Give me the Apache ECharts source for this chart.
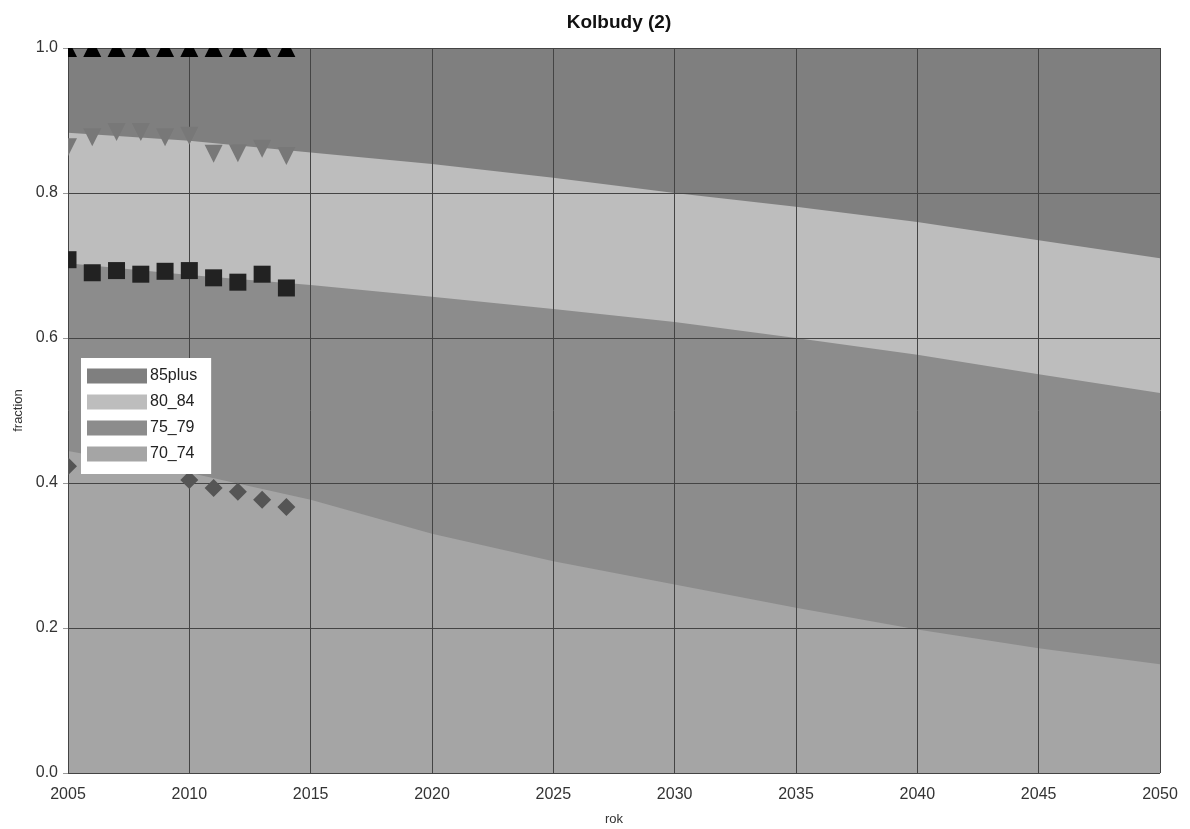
<!DOCTYPE html>
<html>
<head>
<meta charset="utf-8">
<script src="https://cdn.jsdelivr.net/npm/echarts@6/dist/echarts.min.js"></script>
<style>html,body{margin:0;padding:0;background:#fff}#c{width:1190px;height:829px}</style>
</head>
<body>
<div id="c"></div>
<script>
// Projection years
var years = [2005, 2010, 2015, 2020, 2025, 2030, 2035, 2040, 2045, 2050];
// Group fractions (stacked, bottom to top)
var g70_74  = [0.444, 0.414, 0.377, 0.330, 0.292, 0.260, 0.228, 0.198, 0.172, 0.150];
var g75_79  = [0.259, 0.273, 0.296, 0.327, 0.348, 0.362, 0.372, 0.379, 0.378, 0.374];
var g80_84  = [0.180, 0.185, 0.183, 0.183, 0.181, 0.178, 0.181, 0.183, 0.185, 0.186];
var g85plus = [0.117, 0.128, 0.144, 0.160, 0.179, 0.200, 0.219, 0.240, 0.265, 0.290];

// Observed cumulative fractions (markers)
var obsYears = [2005, 2006, 2007, 2008, 2009, 2010, 2011, 2012, 2013, 2014];
var obs85 = [1.0, 1.0, 1.0, 1.0, 1.0, 1.0, 1.0, 1.0, 1.0, 1.0];
var obs80 = [0.863, 0.877, 0.884, 0.884, 0.877, 0.879, 0.854, 0.855, 0.861, 0.851];
var obs75 = [0.708, 0.690, 0.693, 0.688, 0.692, 0.693, 0.683, 0.677, 0.688, 0.669];
var obs70 = [0.423, null, null, null, null, 0.404, 0.393, 0.388, 0.377, 0.367];

var yTicks = ['0.0', '0.2', '0.4', '0.6', '0.8', '1.0'];

var FONT = 'Liberation Sans, Arial, sans-serif';

// Bottom-to-top groups; cumulative tops are drawn from largest to smallest
var areaNames = ['70_74', '75_79', '80_84', '85plus'];
var areaData = [g70_74, g75_79, g80_84, g85plus];
var areaColors = ['#a5a5a5', '#8c8c8c', '#bdbdbd', '#7f7f7f'];

var cum = [];
var running = years.map(function () { return 0; });
areaData.forEach(function (arr) {
  running = running.map(function (v, i) { return v + arr[i]; });
  cum.push(running.slice());
});

var series = [];
for (var k = areaNames.length - 1; k >= 0; k--) {
  series.push({
    name: areaNames[k], type: 'line', z: 1,
    data: years.map(function (y, i) { return [y, cum[k][i]]; }),
    showSymbol: false, symbol: 'none',
    lineStyle: { width: 0, color: areaColors[k] },
    itemStyle: { color: areaColors[k] },
    areaStyle: { color: areaColors[k], opacity: 1, origin: 'start' },
    silent: true
  });
}

function markerSeries(name, values, kind, size, color) {
  var data = [];
  obsYears.forEach(function (y, i) { if (values[i] !== null) data.push([y, values[i]]); });
  return {
    name: name, type: 'custom', z: 5, clip: true, silent: true,
    data: data,
    renderItem: function (params, api) {
      var p = api.coord([api.value(0), api.value(1)]);
      var h = size / 2, pts;
      if (kind === 'up') pts = [[p[0], p[1] - h], [p[0] + h, p[1] + h], [p[0] - h, p[1] + h]];
      else if (kind === 'down') pts = [[p[0] - h, p[1] - h], [p[0] + h, p[1] - h], [p[0], p[1] + h]];
      else if (kind === 'square') pts = [[p[0] - h, p[1] - h], [p[0] + h, p[1] - h], [p[0] + h, p[1] + h], [p[0] - h, p[1] + h]];
      else pts = [[p[0], p[1] - h], [p[0] + h, p[1]], [p[0], p[1] + h], [p[0] - h, p[1]]];
      return { type: 'polygon', shape: { points: pts }, style: { fill: color, stroke: null } };
    }
  };
}

series.push(markerSeries('o85', obs85, 'up', 18, '#000000'));
series.push(markerSeries('o80', obs80, 'down', 18, '#787878'));
series.push(markerSeries('o75', obs75, 'square', 17, '#222222'));
series.push(markerSeries('o70', obs70, 'diamond', 18, '#555555'));

var chart = echarts.init(document.getElementById('c'), null, { renderer: 'canvas' });
chart.setOption({
  backgroundColor: '#ffffff',
  animation: false,
  title: {
    text: 'Kolbudy (2)', left: 614, top: 8, textAlign: 'center',
    textStyle: { fontFamily: FONT, fontSize: 19, fontWeight: 'bold', color: '#111' }
  },
  legend: {
    data: ['85plus', '80_84', '75_79', '70_74'],
    orient: 'vertical', left: 81, top: 358,
    padding: [10, 14, 12, 6], itemGap: 10, itemWidth: 60, itemHeight: 15,
    backgroundColor: '#ffffff', borderWidth: 0, icon: 'rect',
    textStyle: { fontFamily: FONT, fontSize: 16, color: '#222', padding: [0, 0, 0, -2] },
    selectedMode: false, z: 10
  },
  grid: { left: 68, right: 30, top: 48, bottom: 56, containLabel: false, outerBoundsMode: 'none' },
  xAxis: {
    type: 'value', min: 2005, max: 2050, interval: 5, z: 3,
    name: 'rok', nameLocation: 'middle', nameGap: 40,
    nameTextStyle: { fontFamily: FONT, fontSize: 13, color: '#333' },
    axisLine: { show: false },
    axisTick: { show: false },
    axisLabel: { fontFamily: FONT, fontSize: 16, color: '#333', margin: 14,
      formatter: function (v) { return String(v); } },
    splitLine: { show: true, lineStyle: { color: '#444444', width: 1 } }
  },
  yAxis: {
    type: 'value', min: 0, max: 1, interval: 0.2, z: 3,
    name: 'fraction', nameLocation: 'middle', nameGap: 43, nameRotate: 90,
    nameTextStyle: { fontFamily: FONT, fontSize: 13, color: '#333' },
    axisLine: { show: false },
    axisTick: { show: true, length: 5, lineStyle: { color: '#999' } },
    axisLabel: { fontFamily: FONT, fontSize: 16, color: '#333', margin: 10,
      formatter: function (v) { return yTicks[Math.round(v / 0.2)]; } },
    splitLine: { show: true, lineStyle: { color: '#444444', width: 1 } }
  },
  series: series
});
</script>
</body>
</html>
